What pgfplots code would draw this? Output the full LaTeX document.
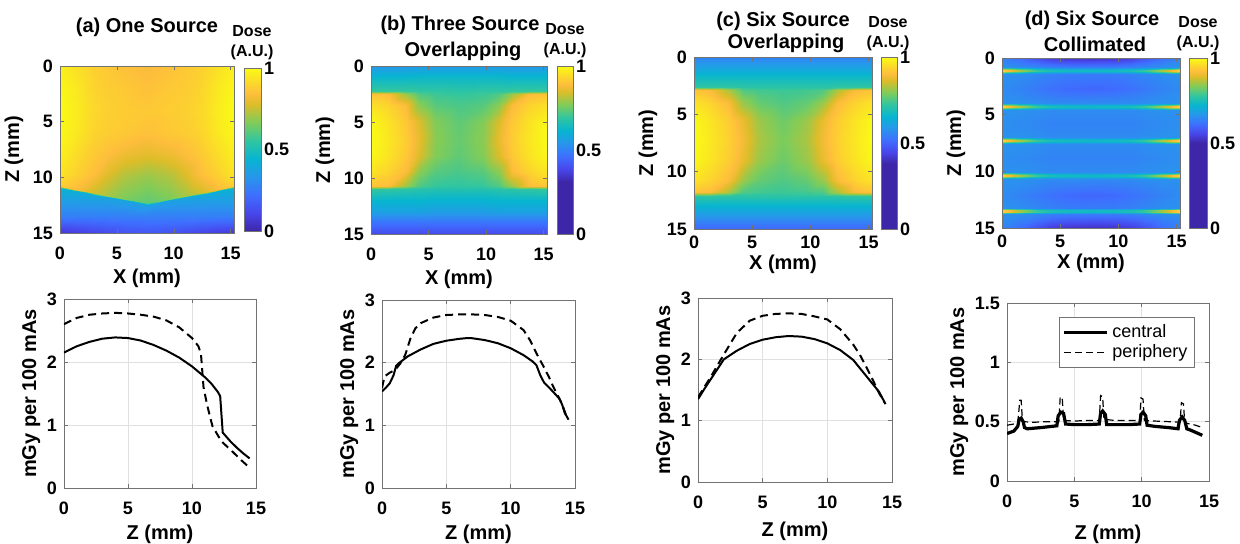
\documentclass[border=0pt]{standalone}
\usepackage{fontspec}
\setmainfont{Liberation Sans}
\usepackage{pgfplots}
\pgfplotsset{compat=1.18}
\newcommand\tk{\bfseries\fontsize{9}{10}\selectfont}
\newcommand\lb{\bfseries\fontsize{10}{12}\selectfont}
\newcommand\ds{\bfseries\fontsize{8}{9}\selectfont}
\pgfplotsset{
 colormap={parA}{rgb(0pt)=(0.2422,0.1504,0.6603) rgb(111pt)=(0.2803,0.2782,0.9221) rgb(222pt)=(0.2440,0.4358,0.9988) rgb(333pt)=(0.1540,0.5902,0.9218) rgb(444pt)=(0.0297,0.7082,0.8163) rgb(556pt)=(0.1938,0.7758,0.6251) rgb(667pt)=(0.5044,0.7993,0.3480) rgb(778pt)=(0.8634,0.7406,0.1596) rgb(841pt)=(0.9956,0.7434,0.2371) rgb(889pt)=(0.9892,0.8136,0.1885) rgb(1000pt)=(0.9769,0.9839,0.0805)},
 colormap={parB}{rgb(0pt)=(0.2422,0.1504,0.6603) rgb(310pt)=(0.2422,0.1504,0.6603) rgb(387pt)=(0.2803,0.2782,0.9221) rgb(463pt)=(0.2440,0.4358,0.9988) rgb(540pt)=(0.1540,0.5902,0.9218) rgb(616pt)=(0.0297,0.7082,0.8163) rgb(694pt)=(0.1938,0.7758,0.6251) rgb(770pt)=(0.5044,0.7993,0.3480) rgb(847pt)=(0.8634,0.7406,0.1596) rgb(890pt)=(0.9956,0.7434,0.2371) rgb(923pt)=(0.9892,0.8136,0.1885) rgb(1000pt)=(0.9769,0.9839,0.0805)},
 colormap={parC}{rgb(0pt)=(0.2422,0.1504,0.6603) rgb(380pt)=(0.2422,0.1504,0.6603) rgb(449pt)=(0.2803,0.2782,0.9221) rgb(518pt)=(0.2440,0.4358,0.9988) rgb(586pt)=(0.1540,0.5902,0.9218) rgb(655pt)=(0.0297,0.7082,0.8163) rgb(725pt)=(0.1938,0.7758,0.6251) rgb(794pt)=(0.5044,0.7993,0.3480) rgb(862pt)=(0.8634,0.7406,0.1596) rgb(901pt)=(0.9956,0.7434,0.2371) rgb(931pt)=(0.9892,0.8136,0.1885) rgb(1000pt)=(0.9769,0.9839,0.0805)},
 colormap={parD}{rgb(0pt)=(0.2422,0.1504,0.6603) rgb(500pt)=(0.2422,0.1504,0.6603) rgb(556pt)=(0.2803,0.2782,0.9221) rgb(611pt)=(0.2440,0.4358,0.9988) rgb(667pt)=(0.1540,0.5902,0.9218) rgb(722pt)=(0.0297,0.7082,0.8163) rgb(778pt)=(0.1938,0.7758,0.6251) rgb(834pt)=(0.5044,0.7993,0.3480) rgb(889pt)=(0.8634,0.7406,0.1596) rgb(921pt)=(0.9956,0.7434,0.2371) rgb(945pt)=(0.9892,0.8136,0.1885) rgb(1000pt)=(0.9769,0.9839,0.0805)},
 base/.style={scale only axis, anchor=south west, tick align=inside, major tick length=2pt,
   axis line style={draw=black!55}, tick style={black!55},
   tick label style={font=\tk}, label style={font=\lb},
   /pgf/number format/assume math mode=true},
 hm/.style={base, xmin=0, xmax=15.3, ymin=0, ymax=15, y dir=reverse,
   xtick={0,5,10,15}, ytick={0,5,10,15}, xlabel={X (mm)}, ylabel={Z (mm)}, ylabel shift=-2pt,
   point meta min=0, point meta max=1, axis on top, colorbar,
   colorbar style={scale only axis, at={(parent axis.north east)}, anchor=north west,
     ytick={0,0.5,1}, yticklabel style={font=\tk, xshift=-2pt}, major tick length=0pt,
     axis line style={draw=black!55}, /pgf/number format/assume math mode=true}},
 lp/.style={base, xmin=0, xmax=15, xtick={0,5,10,15}, grid=major, grid style={black!12},
   xlabel={Z (mm)}, ylabel={mGy per 100 mAs}, ylabel shift=-3.5pt,
   xticklabel style={yshift=-3.5pt}},
 cen/.style={black, line width=1pt},
 per/.style={black, line width=1pt, dash pattern=on 4pt off 2.5pt},
}
\begin{document}
\begin{tikzpicture}
\useasboundingbox (0,0) rectangle (620pt,272pt);
% ---------- (a) heatmap
\begin{axis}[hm, at={(30pt,155.5pt)}, width=87pt, height=83.5pt, colormap name=parA,
  xticklabel style={yshift=-3.5pt}, xlabel style={yshift=2.5pt},
  colorbar style={width=8.5pt, height=81.5pt, xshift=-3.5pt, yshift=-1pt}]
\addplot[surf, shader=interp, mesh/cols=11, point meta=explicit] coordinates {
(0,0)[0.97] (1.5,0)[0.93] (3,0)[0.89] (4.2,0)[0.87] (5.6,0)[0.85] (7.65,0)[0.83] (9.7,0)[0.85] (11.1,0)[0.87] (12.3,0)[0.89] (13.8,0)[0.93] (15.3,0)[0.97]
(0,2)[0.99] (1.5,2)[0.95] (3,2)[0.90] (4.2,2)[0.88] (5.6,2)[0.87] (7.65,2)[0.85] (9.7,2)[0.87] (11.1,2)[0.88] (12.3,2)[0.90] (13.8,2)[0.95] (15.3,2)[0.99]
(0,4)[1.00] (1.5,4)[0.96] (3,4)[0.91] (4.2,4)[0.89] (5.6,4)[0.88] (7.65,4)[0.87] (9.7,4)[0.88] (11.1,4)[0.89] (12.3,4)[0.91] (13.8,4)[0.96] (15.3,4)[1.00]
(0,6)[0.99] (1.5,6)[0.95] (3,6)[0.90] (4.2,6)[0.88] (5.6,6)[0.87] (7.65,6)[0.85] (9.7,6)[0.87] (11.1,6)[0.88] (12.3,6)[0.90] (13.8,6)[0.95] (15.3,6)[0.99]
(0,8)[0.97] (1.5,8)[0.92] (3,8)[0.87] (4.2,8)[0.84] (5.6,8)[0.81] (7.65,8)[0.79] (9.7,8)[0.81] (11.1,8)[0.84] (12.3,8)[0.87] (13.8,8)[0.92] (15.3,8)[0.97]
(0,9.8)[0.94] (1.5,9.8)[0.89] (3,9.8)[0.84] (4.2,9.8)[0.78] (5.6,9.8)[0.73] (7.65,9.8)[0.70] (9.7,9.8)[0.73] (11.1,9.8)[0.78] (12.3,9.8)[0.84] (13.8,9.8)[0.89] (15.3,9.8)[0.94]
(0,10.8)[0.88] (1.5,11.1)[0.83] (3,11.4)[0.76] (4.2,11.65)[0.71] (5.6,11.93)[0.66] (7.65,12.3)[0.62] (9.7,11.93)[0.66] (11.1,11.65)[0.71] (12.3,11.4)[0.76] (13.8,11.1)[0.83] (15.3,10.8)[0.88]
(0,10.95)[0.44] (1.5,11.25)[0.42] (3,11.55)[0.40] (4.2,11.8)[0.39] (5.6,12.08)[0.38] (7.65,12.45)[0.37] (9.7,12.08)[0.38] (11.1,11.8)[0.39] (12.3,11.55)[0.40] (13.8,11.25)[0.42] (15.3,10.95)[0.44]
(0,13.5)[0.27] (1.5,13.5)[0.27] (3,13.5)[0.27] (4.2,13.5)[0.27] (5.6,13.5)[0.27] (7.65,13.5)[0.27] (9.7,13.5)[0.27] (11.1,13.5)[0.27] (12.3,13.5)[0.27] (13.8,13.5)[0.27] (15.3,13.5)[0.27]
(0,15)[0.06] (1.5,15)[0.08] (3,15)[0.10] (4.2,15)[0.12] (5.6,15)[0.14] (7.65,15)[0.15] (9.7,15)[0.14] (11.1,15)[0.12] (12.3,15)[0.10] (13.8,15)[0.08] (15.3,15)[0.06]
};
\end{axis}
% ---------- (b) heatmap
\begin{axis}[hm, at={(185.5pt,155pt)}, width=88pt, height=84pt, colormap name=parB,
  xticklabel style={yshift=-3.5pt}, xlabel style={yshift=2.5pt},
  colorbar style={width=8pt, height=84pt, xshift=-3.5pt}]
\addplot[surf, shader=interp, mesh/cols=11, point meta=explicit] coordinates {
(0,0)[0.545] (1.5,0)[0.545] (3,0)[0.545] (4.2,0)[0.552] (5.6,0)[0.552] (7.65,0)[0.552] (9.7,0)[0.552] (11.1,0)[0.552] (12.3,0)[0.545] (13.8,0)[0.545] (15.3,0)[0.545]
(0,1)[0.621] (1.5,1)[0.621] (3,1)[0.621] (4.2,1)[0.627] (5.6,1)[0.627] (7.65,1)[0.627] (9.7,1)[0.627] (11.1,1)[0.627] (12.3,1)[0.621] (13.8,1)[0.621] (15.3,1)[0.621]
(0,2.2)[0.696] (1.5,2.2)[0.696] (3,2.2)[0.696] (4.2,2.2)[0.690] (5.6,2.2)[0.690] (7.65,2.2)[0.683] (9.7,2.2)[0.690] (11.1,2.2)[0.690] (12.3,2.2)[0.696] (13.8,2.2)[0.696] (15.3,2.2)[0.696]
(0,2.5)[0.903] (1.5,2.5)[0.890] (3,2.5)[0.793] (4.2,2.5)[0.724] (5.6,2.5)[0.703] (7.65,2.5)[0.696] (9.7,2.5)[0.703] (11.1,2.5)[0.724] (12.3,2.5)[0.793] (13.8,2.5)[0.890] (15.3,2.5)[0.903]
(0,3.5)[0.952] (1.5,3.5)[0.931] (3,3.5)[0.883] (4.2,3.5)[0.779] (5.6,3.5)[0.731] (7.65,3.5)[0.717] (9.7,3.5)[0.731] (11.1,3.5)[0.779] (12.3,3.5)[0.883] (13.8,3.5)[0.931] (15.3,3.5)[0.952]
(0,5)[0.993] (1.5,5)[0.959] (3,5)[0.910] (4.2,5)[0.848] (5.6,5)[0.772] (7.65,5)[0.738] (9.7,5)[0.772] (11.1,5)[0.848] (12.3,5)[0.910] (13.8,5)[0.959] (15.3,5)[0.993]
(0,6.5)[1.000] (1.5,6.5)[0.966] (3,6.5)[0.917] (4.2,6.5)[0.862] (5.6,6.5)[0.779] (7.65,6.5)[0.745] (9.7,6.5)[0.779] (11.1,6.5)[0.862] (12.3,6.5)[0.917] (13.8,6.5)[0.966] (15.3,6.5)[1.000]
(0,8)[0.993] (1.5,8)[0.959] (3,8)[0.910] (4.2,8)[0.848] (5.6,8)[0.772] (7.65,8)[0.738] (9.7,8)[0.772] (11.1,8)[0.848] (12.3,8)[0.910] (13.8,8)[0.959] (15.3,8)[0.993]
(0,9.5)[0.959] (1.5,9.5)[0.931] (3,9.5)[0.883] (4.2,9.5)[0.779] (5.6,9.5)[0.731] (7.65,9.5)[0.717] (9.7,9.5)[0.731] (11.1,9.5)[0.779] (12.3,9.5)[0.883] (13.8,9.5)[0.931] (15.3,9.5)[0.959]
(0,10.7)[0.903] (1.5,10.7)[0.890] (3,10.7)[0.793] (4.2,10.7)[0.724] (5.6,10.7)[0.696] (7.65,10.7)[0.690] (9.7,10.7)[0.696] (11.1,10.7)[0.724] (12.3,10.7)[0.793] (13.8,10.7)[0.890] (15.3,10.7)[0.903]
(0,11)[0.696] (1.5,11)[0.690] (3,11)[0.683] (4.2,11)[0.676] (5.6,11)[0.669] (7.65,11)[0.669] (9.7,11)[0.669] (11.1,11)[0.676] (12.3,11)[0.683] (13.8,11)[0.690] (15.3,11)[0.696]
(0,12)[0.621] (1.5,12)[0.621] (3,12)[0.621] (4.2,12)[0.621] (5.6,12)[0.614] (7.65,12)[0.614] (9.7,12)[0.614] (11.1,12)[0.621] (12.3,12)[0.621] (13.8,12)[0.621] (15.3,12)[0.621]
(0,13)[0.565] (1.5,13)[0.565] (3,13)[0.565] (4.2,13)[0.565] (5.6,13)[0.558] (7.65,13)[0.558] (9.7,13)[0.558] (11.1,13)[0.565] (12.3,13)[0.565] (13.8,13)[0.565] (15.3,13)[0.565]
(0,13.8)[0.483] (1.5,13.8)[0.483] (3,13.8)[0.483] (4.2,13.8)[0.483] (5.6,13.8)[0.483] (7.65,13.8)[0.483] (9.7,13.8)[0.483] (11.1,13.8)[0.483] (12.3,13.8)[0.483] (13.8,13.8)[0.483] (15.3,13.8)[0.483]
(0,15)[0.393] (1.5,15)[0.393] (3,15)[0.393] (4.2,15)[0.393] (5.6,15)[0.393] (7.65,15)[0.393] (9.7,15)[0.393] (11.1,15)[0.393] (12.3,15)[0.393] (13.8,15)[0.393] (15.3,15)[0.393]
};
\end{axis}
% ---------- (c) heatmap
\begin{axis}[hm, at={(347pt,157.5pt)}, width=89pt, height=86pt, colormap name=parC,
  xlabel style={yshift=4pt},
  colorbar style={width=8pt, height=86pt, xshift=-4pt}]
\addplot[surf, shader=interp, mesh/cols=11, point meta=explicit] coordinates {
(0,0)[0.554] (1.5,0)[0.554] (3,0)[0.554] (4.2,0)[0.554] (5.6,0)[0.554] (7.65,0)[0.554] (9.7,0)[0.554] (11.1,0)[0.554] (12.3,0)[0.554] (13.8,0)[0.554] (15.3,0)[0.554]
(0,1)[0.616] (1.5,1)[0.616] (3,1)[0.616] (4.2,1)[0.616] (5.6,1)[0.616] (7.65,1)[0.616] (9.7,1)[0.616] (11.1,1)[0.616] (12.3,1)[0.616] (13.8,1)[0.616] (15.3,1)[0.616]
(0,1.7)[0.665] (1.5,1.7)[0.665] (3,1.7)[0.665] (4.2,1.7)[0.665] (5.6,1.7)[0.665] (7.65,1.7)[0.665] (9.7,1.7)[0.665] (11.1,1.7)[0.665] (12.3,1.7)[0.665] (13.8,1.7)[0.665] (15.3,1.7)[0.665]
(0,2.6)[0.721] (1.5,2.6)[0.721] (3,2.6)[0.721] (4.2,2.6)[0.715] (5.6,2.6)[0.715] (7.65,2.6)[0.715] (9.7,2.6)[0.715] (11.1,2.6)[0.715] (12.3,2.6)[0.721] (13.8,2.6)[0.721] (15.3,2.6)[0.721]
(0,2.9)[0.913] (1.5,2.9)[0.895] (3,2.9)[0.826] (4.2,2.9)[0.752] (5.6,2.9)[0.740] (7.65,2.9)[0.733] (9.7,2.9)[0.740] (11.1,2.9)[0.752] (12.3,2.9)[0.826] (13.8,2.9)[0.895] (15.3,2.9)[0.913]
(0,4)[0.963] (1.5,4)[0.938] (3,4)[0.895] (4.2,4)[0.814] (5.6,4)[0.771] (7.65,4)[0.752] (9.7,4)[0.771] (11.1,4)[0.814] (12.3,4)[0.895] (13.8,4)[0.938] (15.3,4)[0.963]
(0,5.5)[0.994] (1.5,5.5)[0.963] (3,5.5)[0.926] (4.2,5.5)[0.876] (5.6,5.5)[0.814] (7.65,5.5)[0.777] (9.7,5.5)[0.814] (11.1,5.5)[0.876] (12.3,5.5)[0.926] (13.8,5.5)[0.963] (15.3,5.5)[0.994]
(0,7.2)[1.000] (1.5,7.2)[0.969] (3,7.2)[0.932] (4.2,7.2)[0.888] (5.6,7.2)[0.826] (7.65,7.2)[0.789] (9.7,7.2)[0.826] (11.1,7.2)[0.888] (12.3,7.2)[0.932] (13.8,7.2)[0.969] (15.3,7.2)[1.000]
(0,9)[0.994] (1.5,9)[0.963] (3,9)[0.926] (4.2,9)[0.876] (5.6,9)[0.814] (7.65,9)[0.777] (9.7,9)[0.814] (11.1,9)[0.876] (12.3,9)[0.926] (13.8,9)[0.963] (15.3,9)[0.994]
(0,10.7)[0.963] (1.5,10.7)[0.938] (3,10.7)[0.895] (4.2,10.7)[0.814] (5.6,10.7)[0.771] (7.65,10.7)[0.752] (9.7,10.7)[0.771] (11.1,10.7)[0.814] (12.3,10.7)[0.895] (13.8,10.7)[0.938] (15.3,10.7)[0.963]
(0,11.8)[0.913] (1.5,11.8)[0.895] (3,11.8)[0.826] (4.2,11.8)[0.752] (5.6,11.8)[0.740] (7.65,11.8)[0.733] (9.7,11.8)[0.740] (11.1,11.8)[0.752] (12.3,11.8)[0.826] (13.8,11.8)[0.895] (15.3,11.8)[0.913]
(0,12.1)[0.721] (1.5,12.1)[0.721] (3,12.1)[0.715] (4.2,12.1)[0.715] (5.6,12.1)[0.715] (7.65,12.1)[0.715] (9.7,12.1)[0.715] (11.1,12.1)[0.715] (12.3,12.1)[0.715] (13.8,12.1)[0.721] (15.3,12.1)[0.721]
(0,12.8)[0.665] (1.5,12.8)[0.665] (3,12.8)[0.665] (4.2,12.8)[0.665] (5.6,12.8)[0.665] (7.65,12.8)[0.665] (9.7,12.8)[0.665] (11.1,12.8)[0.665] (12.3,12.8)[0.665] (13.8,12.8)[0.665] (15.3,12.8)[0.665]
(0,13.5)[0.616] (1.5,13.5)[0.616] (3,13.5)[0.616] (4.2,13.5)[0.616] (5.6,13.5)[0.616] (7.65,13.5)[0.616] (9.7,13.5)[0.616] (11.1,13.5)[0.616] (12.3,13.5)[0.616] (13.8,13.5)[0.616] (15.3,13.5)[0.616]
(0,14.3)[0.554] (1.5,14.3)[0.554] (3,14.3)[0.554] (4.2,14.3)[0.554] (5.6,14.3)[0.554] (7.65,14.3)[0.554] (9.7,14.3)[0.554] (11.1,14.3)[0.554] (12.3,14.3)[0.554] (13.8,14.3)[0.554] (15.3,14.3)[0.554]
(0,15)[0.504] (1.5,15)[0.504] (3,15)[0.504] (4.2,15)[0.504] (5.6,15)[0.504] (7.65,15)[0.504] (9.7,15)[0.504] (11.1,15)[0.504] (12.3,15)[0.504] (13.8,15)[0.504] (15.3,15)[0.504]
};
\end{axis}
% ---------- (d) heatmap
\begin{axis}[hm, at={(501pt,158pt)}, width=89pt, height=85pt, colormap name=parD,
  xlabel style={yshift=4pt},
  colorbar style={width=9pt, height=85pt, xshift=-4pt}]
\addplot[surf, shader=interp, mesh/cols=11, point meta=explicit] coordinates {
(0,0)[0.64] (1.5,0)[0.61] (3,0)[0.57] (4.2,0)[0.54] (5.6,0)[0.525] (7.65,0)[0.52] (9.7,0)[0.525] (11.1,0)[0.54] (12.3,0)[0.57] (13.8,0)[0.61] (15.3,0)[0.64]
(0,0.8)[0.66] (1.5,0.8)[0.655] (3,0.8)[0.645] (4.2,0.8)[0.635] (5.6,0.8)[0.63] (7.65,0.8)[0.63] (9.7,0.8)[0.63] (11.1,0.8)[0.635] (12.3,0.8)[0.645] (13.8,0.8)[0.655] (15.3,0.8)[0.66]
(0,1.05)[0.95] (1.5,1.05)[0.86] (3,1.05)[0.78] (4.2,1.05)[0.75] (5.6,1.05)[0.74] (7.65,1.05)[0.735] (9.7,1.05)[0.74] (11.1,1.05)[0.75] (12.3,1.05)[0.78] (13.8,1.05)[0.86] (15.3,1.05)[0.95]
(0,1.15)[0.95] (1.5,1.15)[0.86] (3,1.15)[0.78] (4.2,1.15)[0.75] (5.6,1.15)[0.74] (7.65,1.15)[0.735] (9.7,1.15)[0.74] (11.1,1.15)[0.75] (12.3,1.15)[0.78] (13.8,1.15)[0.86] (15.3,1.15)[0.95]
(0,1.4)[0.66] (1.5,1.4)[0.655] (3,1.4)[0.645] (4.2,1.4)[0.635] (5.6,1.4)[0.63] (7.65,1.4)[0.63] (9.7,1.4)[0.63] (11.1,1.4)[0.635] (12.3,1.4)[0.645] (13.8,1.4)[0.655] (15.3,1.4)[0.66]
(0,2.7)[0.65] (1.5,2.7)[0.64] (3,2.7)[0.625] (4.2,2.7)[0.615] (5.6,2.7)[0.605] (7.65,2.7)[0.60] (9.7,2.7)[0.605] (11.1,2.7)[0.615] (12.3,2.7)[0.625] (13.8,2.7)[0.64] (15.3,2.7)[0.65]
(0,3.95)[0.66] (1.5,3.95)[0.66] (3,3.95)[0.655] (4.2,3.95)[0.65] (5.6,3.95)[0.65] (7.65,3.95)[0.65] (9.7,3.95)[0.65] (11.1,3.95)[0.65] (12.3,3.95)[0.655] (13.8,3.95)[0.66] (15.3,3.95)[0.66]
(0,4.2)[0.95] (1.5,4.2)[0.86] (3,4.2)[0.78] (4.2,4.2)[0.75] (5.6,4.2)[0.74] (7.65,4.2)[0.735] (9.7,4.2)[0.74] (11.1,4.2)[0.75] (12.3,4.2)[0.78] (13.8,4.2)[0.86] (15.3,4.2)[0.95]
(0,4.3)[0.95] (1.5,4.3)[0.86] (3,4.3)[0.78] (4.2,4.3)[0.75] (5.6,4.3)[0.74] (7.65,4.3)[0.735] (9.7,4.3)[0.74] (11.1,4.3)[0.75] (12.3,4.3)[0.78] (13.8,4.3)[0.86] (15.3,4.3)[0.95]
(0,4.55)[0.66] (1.5,4.55)[0.66] (3,4.55)[0.655] (4.2,4.55)[0.65] (5.6,4.55)[0.65] (7.65,4.55)[0.65] (9.7,4.55)[0.65] (11.1,4.55)[0.65] (12.3,4.55)[0.655] (13.8,4.55)[0.66] (15.3,4.55)[0.66]
(0,5.8)[0.655] (1.5,5.8)[0.65] (3,5.8)[0.645] (4.2,5.8)[0.64] (5.6,5.8)[0.64] (7.65,5.8)[0.64] (9.7,5.8)[0.64] (11.1,5.8)[0.64] (12.3,5.8)[0.645] (13.8,5.8)[0.65] (15.3,5.8)[0.655]
(0,7.0)[0.66] (1.5,7.0)[0.66] (3,7.0)[0.655] (4.2,7.0)[0.65] (5.6,7.0)[0.65] (7.65,7.0)[0.65] (9.7,7.0)[0.65] (11.1,7.0)[0.65] (12.3,7.0)[0.655] (13.8,7.0)[0.66] (15.3,7.0)[0.66]
(0,7.25)[0.95] (1.5,7.25)[0.86] (3,7.25)[0.78] (4.2,7.25)[0.75] (5.6,7.25)[0.74] (7.65,7.25)[0.735] (9.7,7.25)[0.74] (11.1,7.25)[0.75] (12.3,7.25)[0.78] (13.8,7.25)[0.86] (15.3,7.25)[0.95]
(0,7.35)[0.95] (1.5,7.35)[0.86] (3,7.35)[0.78] (4.2,7.35)[0.75] (5.6,7.35)[0.74] (7.65,7.35)[0.735] (9.7,7.35)[0.74] (11.1,7.35)[0.75] (12.3,7.35)[0.78] (13.8,7.35)[0.86] (15.3,7.35)[0.95]
(0,7.6)[0.66] (1.5,7.6)[0.66] (3,7.6)[0.655] (4.2,7.6)[0.65] (5.6,7.6)[0.65] (7.65,7.6)[0.65] (9.7,7.6)[0.65] (11.1,7.6)[0.65] (12.3,7.6)[0.655] (13.8,7.6)[0.66] (15.3,7.6)[0.66]
(0,8.85)[0.655] (1.5,8.85)[0.65] (3,8.85)[0.645] (4.2,8.85)[0.64] (5.6,8.85)[0.64] (7.65,8.85)[0.64] (9.7,8.85)[0.64] (11.1,8.85)[0.64] (12.3,8.85)[0.645] (13.8,8.85)[0.65] (15.3,8.85)[0.655]
(0,10.1)[0.66] (1.5,10.1)[0.66] (3,10.1)[0.655] (4.2,10.1)[0.65] (5.6,10.1)[0.65] (7.65,10.1)[0.65] (9.7,10.1)[0.65] (11.1,10.1)[0.65] (12.3,10.1)[0.655] (13.8,10.1)[0.66] (15.3,10.1)[0.66]
(0,10.35)[0.95] (1.5,10.35)[0.86] (3,10.35)[0.78] (4.2,10.35)[0.75] (5.6,10.35)[0.74] (7.65,10.35)[0.735] (9.7,10.35)[0.74] (11.1,10.35)[0.75] (12.3,10.35)[0.78] (13.8,10.35)[0.86] (15.3,10.35)[0.95]
(0,10.45)[0.95] (1.5,10.45)[0.86] (3,10.45)[0.78] (4.2,10.45)[0.75] (5.6,10.45)[0.74] (7.65,10.45)[0.735] (9.7,10.45)[0.74] (11.1,10.45)[0.75] (12.3,10.45)[0.78] (13.8,10.45)[0.86] (15.3,10.45)[0.95]
(0,10.7)[0.66] (1.5,10.7)[0.66] (3,10.7)[0.655] (4.2,10.7)[0.65] (5.6,10.7)[0.65] (7.65,10.7)[0.65] (9.7,10.7)[0.65] (11.1,10.7)[0.65] (12.3,10.7)[0.655] (13.8,10.7)[0.66] (15.3,10.7)[0.66]
(0,12.1)[0.65] (1.5,12.1)[0.64] (3,12.1)[0.625] (4.2,12.1)[0.615] (5.6,12.1)[0.605] (7.65,12.1)[0.60] (9.7,12.1)[0.605] (11.1,12.1)[0.615] (12.3,12.1)[0.625] (13.8,12.1)[0.64] (15.3,12.1)[0.65]
(0,13.2)[0.66] (1.5,13.2)[0.655] (3,13.2)[0.645] (4.2,13.2)[0.635] (5.6,13.2)[0.63] (7.65,13.2)[0.63] (9.7,13.2)[0.63] (11.1,13.2)[0.635] (12.3,13.2)[0.645] (13.8,13.2)[0.655] (15.3,13.2)[0.66]
(0,13.45)[0.95] (1.5,13.45)[0.86] (3,13.45)[0.78] (4.2,13.45)[0.75] (5.6,13.45)[0.74] (7.65,13.45)[0.735] (9.7,13.45)[0.74] (11.1,13.45)[0.75] (12.3,13.45)[0.78] (13.8,13.45)[0.86] (15.3,13.45)[0.95]
(0,13.55)[0.95] (1.5,13.55)[0.86] (3,13.55)[0.78] (4.2,13.55)[0.75] (5.6,13.55)[0.74] (7.65,13.55)[0.735] (9.7,13.55)[0.74] (11.1,13.55)[0.75] (12.3,13.55)[0.78] (13.8,13.55)[0.86] (15.3,13.55)[0.95]
(0,13.8)[0.66] (1.5,13.8)[0.655] (3,13.8)[0.645] (4.2,13.8)[0.635] (5.6,13.8)[0.63] (7.65,13.8)[0.63] (9.7,13.8)[0.63] (11.1,13.8)[0.635] (12.3,13.8)[0.645] (13.8,13.8)[0.655] (15.3,13.8)[0.66]
(0,15)[0.64] (1.5,15)[0.61] (3,15)[0.57] (4.2,15)[0.54] (5.6,15)[0.525] (7.65,15)[0.52] (9.7,15)[0.525] (11.1,15)[0.54] (12.3,15)[0.57] (13.8,15)[0.61] (15.3,15)[0.64]
};
\end{axis}
% ---------- titles
\node[font=\lb] at (73.5pt,258.5pt) {(a) One Source};
\node[font=\ds] at (126pt,256.5pt) {Dose};
\node[font=\ds] at (126pt,246pt) {(A.U.)};
\node[font=\lb] at (230pt,259.5pt) {(b) Three Source};
\node[font=\lb] at (231.5pt,246.5pt) {Overlapping};
\node[font=\ds] at (282.5pt,257.5pt) {Dose};
\node[font=\ds] at (282.5pt,247pt) {(A.U.)};
\node[font=\lb] at (391.5pt,261.5pt) {(c) Six Source};
\node[font=\lb] at (393pt,250.5pt) {Overlapping};
\node[font=\ds] at (444pt,261pt) {Dose};
\node[font=\ds] at (444pt,250.5pt) {(A.U.)};
\node[font=\lb] at (546pt,262pt) {(d) Six Source};
\node[font=\lb] at (547.5pt,250pt) {Collimated};
\node[font=\ds] at (599pt,261pt) {Dose};
\node[font=\ds] at (599pt,250.5pt) {(A.U.)};
% ---------- (a) lines
\begin{axis}[lp, at={(32pt,28pt)}, width=96pt, height=94.5pt, ymin=0, ymax=3, ytick={0,1,2,3}, xlabel style={yshift=2pt}]
\addplot[cen] coordinates {(0,2.15) (1,2.25) (2,2.32) (3,2.37) (4,2.39) (5,2.38) (6,2.34) (7,2.27) (8,2.18) (9,2.07) (10,1.93) (11,1.76) (11.5,1.66) (12,1.53) (12.2,1.46) (12.4,0.88) (13,0.74) (13.5,0.64) (14,0.55) (14.5,0.47)};
\addplot[per] coordinates {(0,2.6) (1,2.7) (2,2.75) (3,2.77) (4,2.78) (5,2.77) (6,2.75) (7,2.72) (8,2.66) (9,2.55) (10,2.38) (10.5,2.25) (10.7,2.13) (10.9,1.6) (11.2,1.3) (11.6,0.98) (12.3,0.74) (13.2,0.57) (13.8,0.45) (14.4,0.34)};
\end{axis}
% ---------- (b) lines
\begin{axis}[lp, at={(191pt,28pt)}, width=96.5pt, height=94pt, ymin=0, ymax=3, ytick={0,1,2,3}, xlabel style={yshift=2pt}]
\addplot[cen] coordinates {(0,1.54) (0.3,1.6) (0.6,1.67) (0.9,1.8) (1.1,1.95) (1.3,1.99) (2,2.1) (3,2.21) (4,2.3) (5,2.35) (6,2.38) (6.5,2.39) (7,2.39) (8,2.36) (9,2.31) (10,2.23) (11,2.12) (11.7,2.02) (12,1.96) (12.3,1.8) (12.6,1.68) (13,1.6) (13.5,1.49) (13.8,1.42) (14,1.33) (14.2,1.2) (14.5,1.09)};
\addplot[per] coordinates {(0,1.6) (0.2,1.78) (0.6,1.84) (1,1.88) (1.4,1.98) (1.8,2.12) (2.2,2.38) (2.6,2.55) (3,2.63) (4,2.72) (5,2.76) (6,2.77) (7,2.77) (8,2.76) (9,2.73) (10,2.67) (11,2.52) (11.5,2.36) (12,2.15) (12.5,1.96) (13,1.76) (13.3,1.62) (13.6,1.5) (14,1.34) (14.3,1.16)};
\end{axis}
% ---------- (c) lines
\begin{axis}[lp, at={(349pt,31pt)}, width=97pt, height=92pt, ymin=0, ymax=3, ytick={0,1,2,3}, xlabel style={yshift=0.5pt}]
\addplot[cen] coordinates {(0,1.35) (0.5,1.52) (1,1.68) (1.5,1.84) (2,2.0) (3,2.14) (4,2.25) (5,2.32) (6,2.36) (7,2.38) (8,2.37) (9,2.33) (10,2.26) (11,2.15) (12,1.99) (12.5,1.86) (13,1.73) (13.5,1.6) (14,1.47) (14.5,1.27)};
\addplot[per] coordinates {(0,1.38) (0.5,1.55) (1,1.72) (1.5,1.9) (2,2.08) (3,2.43) (4,2.63) (5,2.71) (6,2.74) (7,2.75) (8,2.74) (9,2.7) (10,2.65) (11,2.49) (12,2.24) (12.5,2.08) (13,1.88) (13.5,1.67) (14,1.45) (14.4,1.3)};
\end{axis}
% ---------- (d) lines
\begin{axis}[lp, at={(503.5pt,31.5pt)}, width=101pt, height=89pt, ymin=0, ymax=1.5, ytick={0,0.5,1,1.5}, xlabel style={yshift=-1.5pt},
  legend style={at={(0.93,0.92)}, anchor=north east, font=\fontsize{9}{10}\selectfont, draw=black!55, inner sep=1.5pt, row sep=-2pt},
  legend cell align=left, legend image code/.code={\draw[#1] (0cm,0cm) -- (0.75cm,0cm);}]
\addplot[black, line width=1.6pt] coordinates {(0,0.40) (0.5,0.42) (0.8,0.46) (0.9,0.52) (1.05,0.53) (1.2,0.50) (1.3,0.45) (1.5,0.44) (2.5,0.45) (3.7,0.465) (3.8,0.55) (4.0,0.58) (4.2,0.57) (4.35,0.48) (5,0.475) (6,0.475) (6.85,0.48) (6.95,0.57) (7.1,0.59) (7.3,0.56) (7.4,0.475) (8,0.475) (9,0.475) (9.85,0.48) (9.95,0.56) (10.1,0.58) (10.3,0.55) (10.4,0.47) (11,0.46) (12,0.45) (12.7,0.44) (12.8,0.51) (13.0,0.54) (13.2,0.51) (13.35,0.44) (13.6,0.43) (14,0.41) (14.5,0.385)};
\addlegendentry{central}
\addplot[black, line width=0.6pt, dash pattern=on 3.5pt off 2pt] coordinates {(0,0.47) (0.5,0.48) (0.8,0.49) (0.95,0.68) (1.05,0.68) (1.15,0.50) (2,0.495) (3,0.50) (3.85,0.50) (3.95,0.71) (4.1,0.70) (4.2,0.51) (5,0.505) (6,0.51) (6.85,0.51) (6.95,0.72) (7.1,0.71) (7.2,0.52) (8,0.51) (9,0.51) (9.85,0.51) (9.95,0.70) (10.1,0.69) (10.2,0.51) (11,0.505) (12,0.50) (12.85,0.495) (12.95,0.66) (13.1,0.65) (13.2,0.49) (14,0.47) (14.5,0.45)};
\addlegendentry{periphery}
\end{axis}
\end{tikzpicture}
\end{document}
